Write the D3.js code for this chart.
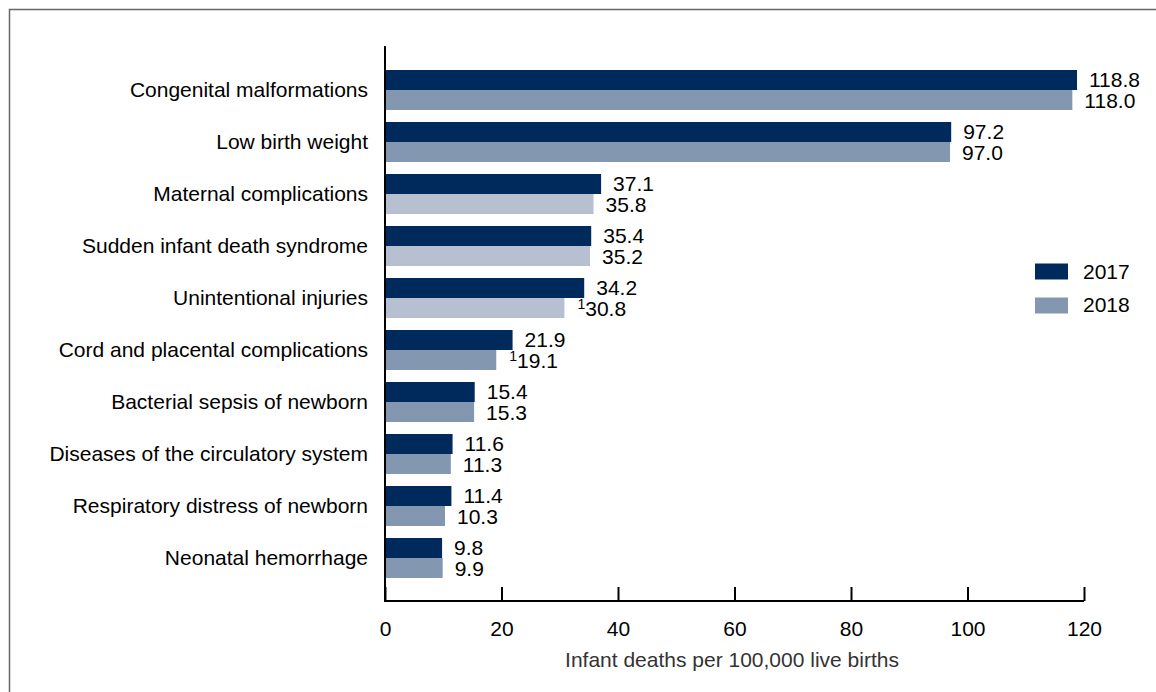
<!DOCTYPE html>
<html><head><meta charset="utf-8">
<script src="https://cdn.jsdelivr.net/npm/d3@7"></script>
<style>body{margin:0;background:#fff;} text{font-family:"Liberation Sans",Arial,sans-serif;fill:#000;}</style>
</head><body>
<svg id="c" width="1156" height="692"></svg>
<script>
const categories = ["Congenital malformations","Low birth weight","Maternal complications","Sudden infant death syndrome","Unintentional injuries","Cord and placental complications","Bacterial sepsis of newborn","Diseases of the circulatory system","Respiratory distress of newborn","Neonatal hemorrhage"];
const values2017 = [118.8,97.2,37.1,35.4,34.2,21.9,15.4,11.6,11.4,9.8];
const values2018 = [118.0,97.0,35.8,35.2,30.8,19.1,15.3,11.3,10.3,9.9];
const footnote2018 = [false,false,false,false,true,true,false,false,false,false];
const light2018 = [false,false,true,true,true,false,false,false,false,false];
const seriesNames = ["2017","2018"];
const xTicks = [0,20,40,60,80,100,120];
const xTitle = "Infant deaths per 100,000 live births";

const C17 = "#002a5c", C18 = "#8497b0", C18L = "#b6c0d1";
const FS = 21;
const svg = d3.select("#c");

// frame
svg.append("path").attr("d","M9.5,692 V9.5 H1156").attr("fill","none").attr("stroke","#666").attr("stroke-width",1.5);

const x = d3.scaleLinear().domain([0,120]).range([385,1084]);
const y = d3.scaleBand().domain(categories).range([64,584]).paddingInner(12/52).paddingOuter(6/52);
const bh = y.bandwidth()/2;

const g = svg.append("g");
categories.forEach((c,i)=>{
  const y0 = y(c);
  g.append("rect").attr("x",x(0)).attr("y",y0).attr("width",x(values2017[i])-x(0)).attr("height",bh).attr("fill",C17);
  g.append("rect").attr("x",x(0)).attr("y",y0+bh).attr("width",x(values2018[i])-x(0)).attr("height",bh).attr("fill",light2018[i]?C18L:C18);
  g.append("text").attr("x",x(values2017[i])+12).attr("y",y0+bh/2+7).attr("font-size",FS).text(values2017[i].toFixed(1));
  const t = g.append("text").attr("x",x(values2018[i])+(footnote2018[i]?13:12)).attr("y",y0+bh+bh/2+7.5).attr("font-size",FS);
  if(footnote2018[i]){
    t.append("tspan").attr("font-size",14).attr("dy",-7).text("1");
    t.append("tspan").attr("dy",7).text(values2018[i].toFixed(1));
  } else t.text(values2018[i].toFixed(1));
  g.append("text").attr("x",368).attr("y",y0+bh+7).attr("text-anchor","end").attr("font-size",FS).text(c);
});

// axes
const ax = svg.append("g").attr("transform","translate(0,601)")
  .call(d3.axisBottom(x).tickValues(xTicks).tickSize(-14).tickPadding(0).tickFormat(d3.format("d")));
ax.select(".domain").attr("stroke","#000").attr("stroke-width",2).attr("d","M385,0H1084");
ax.selectAll(".tick line").attr("stroke","#000").attr("stroke-width",2);
ax.selectAll(".tick text").attr("font-size",FS).attr("y",35).attr("dy",0).attr("font-family","Liberation Sans, Arial, sans-serif").attr("fill","#000");
svg.append("line").attr("x1",385).attr("x2",385).attr("y1",46).attr("y2",602).attr("stroke","#000").attr("stroke-width",2);

svg.append("text").attr("x",732).attr("y",667).attr("text-anchor","middle").attr("font-size",FS).style("fill","#333").text(xTitle);

// legend
const leg = svg.append("g");
[C17,C18].forEach((col,i)=>{
  leg.append("rect").attr("x",1035).attr("y",263.5+i*34).attr("width",33).attr("height",16).attr("fill",col);
  leg.append("text").attr("x",1083).attr("y",279+i*33).attr("font-size",FS).text(seriesNames[i]);
});
</script>
</body></html>
